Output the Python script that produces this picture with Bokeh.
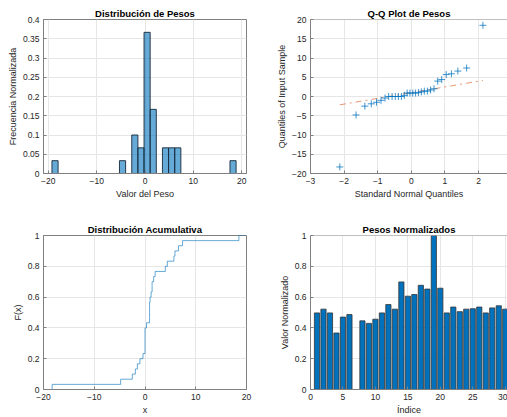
import numpy as np
from statistics import NormalDist
from bokeh.plotting import figure
from bokeh.layouts import column, row
from bokeh.models import Span, FixedTicker
from bokeh.embed import file_html
from bokeh.resources import INLINE

# ---- data ----
weights = [0.0, 0.9, 0.0, -4.8, -1.0, -0.4, -18.3, -1.9, -2.5, -1.5,
           0.0, 2.0, 0.9, 7.4, 4.0, 4.4, 6.6, 5.7, 18.5, 5.9,
           0.0, 1.4, 0.3, 0.9, 1.0, 1.4, 0.0, 1.2, 1.7, 0.9]
bin_start = -19.25
bin_width = 1.27
n_bins = 30

hist_xticks = [-20, -10, 0, 10, 20]
hist_yticks = [0, 0.05, 0.1, 0.15, 0.2, 0.25, 0.3, 0.35, 0.4]
qq_xticks = [-3, -2, -1, 0, 1, 2, 3]
qq_yticks = [-20, -15, -10, -5, 0, 5, 10, 15, 20]
cdf_xticks = [-20, -10, 0, 10, 20]
cdf_yticks = [0, 0.2, 0.4, 0.6, 0.8, 1]
bar_xticks = [0, 5, 10, 15, 20, 25, 30]
bar_yticks = [0, 0.2, 0.4, 0.6, 0.8, 1]

# ---- derived ----
w = np.array(weights)
n = len(w)
edges = bin_start + bin_width * np.arange(n_bins + 1)
counts, _ = np.histogram(w, bins=edges)
probs = counts / n
mask = counts > 0

s = np.sort(w)
nd = NormalDist()
zq = np.array([nd.inv_cdf((i - 0.5) / n) for i in range(1, n + 1)])
q1 = s[int(round(n * 0.25 + 0.5)) - 1]
q3 = s[int(round(n * 0.75 + 0.5)) - 1]
z1, z3 = nd.inv_cdf(0.25), nd.inv_cdf(0.75)
slope = (q3 - q1) / (z3 - z1)
icpt = q1 - slope * z1
line_x = np.array([zq[0], zq[-1]])
line_y = icpt + slope * line_x

cdf_x = np.concatenate([[-20], s, [20]])
cdf_y = np.concatenate([[0], np.arange(1, n + 1) / n, [1]])

norm = (w - w.min()) / (w.max() - w.min())
idx = np.arange(1, n + 1)

FONT = "Liberation Sans"
AX = "#808080"
TXT = "#262626"


def style(p, xt, yt, title, xl, yl, box=True):
    p.title.text = title
    p.title.text_font = FONT
    p.title.text_font_size = "9.5px"
    p.title.text_font_style = "bold"
    p.title.text_color = "#000000"
    p.title.align = "center"
    p.title.standoff = 1
    p.title.offset = 0
    p.xaxis.ticker = FixedTicker(ticks=xt)
    p.yaxis.ticker = FixedTicker(ticks=yt)
    p.xaxis.axis_label = xl
    p.yaxis.axis_label = yl
    for ax in (p.xaxis[0], p.yaxis[0]):
        ax.axis_label_text_font = FONT
        ax.axis_label_text_font_size = "9px"
        ax.axis_label_text_font_style = "normal"
        ax.axis_label_text_color = TXT
        ax.major_label_text_font = FONT
        ax.major_label_text_font_size = "8.5px"
        ax.major_label_text_color = TXT
        ax.axis_line_color = AX
        ax.major_tick_line_color = AX
        ax.major_tick_in = 3
        ax.major_tick_out = 0
        ax.minor_tick_line_color = None
        ax.major_label_standoff = 4
        ax.axis_label_standoff = 2
    p.grid.grid_line_color = "#e6e6e6"
    p.background_fill_color = "white"
    p.border_fill_color = "white"
    if box:
        p.outline_line_color = AX
        p.outline_line_alpha = 1
    else:
        p.outline_line_color = None
        p.add_layout(Span(location=p.y_range.end, dimension="width",
                          line_color=AX, line_width=1))


common = dict(output_backend="svg", toolbar_location=None, tools="")

# Histogram
p1 = figure(width=254, height=208, x_range=(-21, 21), y_range=(0, 0.4),
            min_border_left=43, min_border_right=8, min_border_top=19,
            min_border_bottom=35, **common)
p1.quad(left=edges[:-1][mask], right=edges[1:][mask], top=probs[mask], bottom=0,
        fill_color="#0072BD", fill_alpha=0.6, line_color="#1a2a3a",
        line_alpha=0.9, line_width=1)
style(p1, hist_xticks, hist_yticks, "Distribución de Pesos",
      "Valor del Peso", "Frecuencia Normalizada")

# Q-Q plot
p2 = figure(width=253, height=208, x_range=(-3, 2.86), y_range=(-20, 20),
            min_border_left=56, min_border_right=0, min_border_top=19,
            min_border_bottom=35, **common)
p2.line(line_x, line_y, line_color="#D95319", line_dash="dashdot",
        line_width=1, line_alpha=0.6)
p2.scatter(zq, s, marker="cross", size=7, line_color="#0072BD",
           line_alpha=0.75, line_width=1)
style(p2, qq_xticks, qq_yticks, "Q-Q Plot de Pesos",
      "Standard Normal Quantiles", "Quantiles of Input Sample", box=False)

# CDF
p3 = figure(width=254, height=209, x_range=(-20, 20), y_range=(0, 1),
            min_border_left=43, min_border_right=8, min_border_top=27,
            min_border_bottom=27, **common)
p3.step(cdf_x, cdf_y, mode="after", line_color="#0072BD", line_alpha=0.6,
        line_width=1)
style(p3, cdf_xticks, cdf_yticks, "Distribución Acumulativa", "x", "F(x)")

# Normalized bars
p4 = figure(width=253, height=209, x_range=(0, 30.35), y_range=(0, 1),
            min_border_left=56, min_border_right=0, min_border_top=27,
            min_border_bottom=27, **common)
p4.vbar(x=idx, top=norm, width=0.8, fill_color="#0072BD",
        line_color="#333333", line_width=0.8)
style(p4, bar_xticks, bar_yticks, "Pesos Normalizados", "Índice",
      "Valor Normalizado", box=False)

layout = column(row(p1, p2), row(p3, p4))
open("out.html", "w").write(file_html(layout, INLINE))
